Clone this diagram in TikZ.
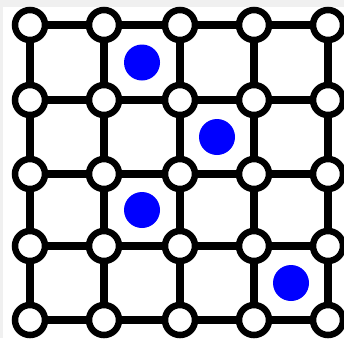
\documentclass[tikz,border=0pt]{standalone}
\usetikzlibrary{calc}
\begin{document}
\begin{tikzpicture}[x=1pt,y=-1pt,
 site/.style={shape=circle,draw=black,fill=white,line width=6.5pt,minimum size=30pt,inner sep=0pt},
 bond/.style={line width=7.5pt},
 spot/.style={shape=circle,fill=blue,minimum size=36pt,inner sep=0pt}]
\useasboundingbox(0,0)rectangle(344,338);
\fill[gray!12](0,0)rectangle(344,338);
\fill[white](3,7)rectangle(344,338);
% lattice sites
\foreach \i/\x in {0/30,1/104,2/180,3/254,4/328}
 \foreach \j/\y in {0/25,1/100,2/174,3/246,4/320}
 \node[site](n\i\j) at (\x,\y){};
% bonds
\foreach \i in {0,...,4}
 \foreach \j in {0,...,3}{
 \pgfmathtruncatemacro\k{\j+1}
 \draw[bond](n\i\j)--(n\i\k);
 \draw[bond](n\j\i)--(n\k\i);
 }
% occupied cells
\foreach \a/\b in {n10/n21,n21/n32,n12/n23,n33/n44}
 \node[spot] at ($(\a)!.5!(\b)$){};
\end{tikzpicture}
\end{document}
